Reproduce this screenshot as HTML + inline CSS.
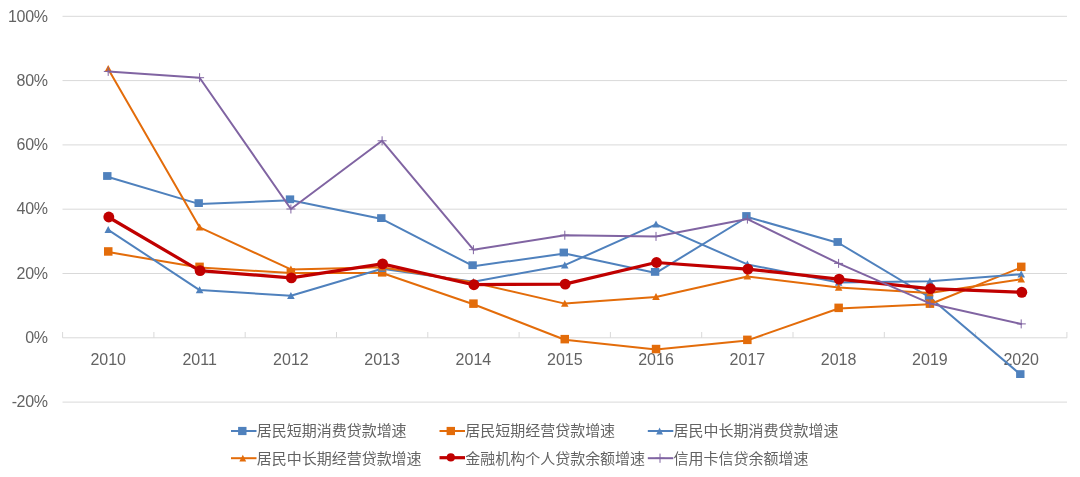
<!DOCTYPE html>
<html lang="zh-CN"><head><meta charset="utf-8"><title>居民贷款增速</title>
<style>
html,body{margin:0;padding:0;background:#fff;}
body{width:1080px;height:477px;overflow:hidden;}
svg{display:block;}
text{font-family:"Liberation Sans","Noto Sans CJK SC",sans-serif;font-size:16px;fill:#636363;}
.lg{font-size:15px;}
</style></head><body>
<svg width="1080" height="477" viewBox="0 0 1080 477">
<rect width="1080" height="477" fill="#fff"/>
<line x1="62.5" x2="1067" y1="16.3" y2="16.3" stroke="#d9d9d9" stroke-width="1"/>
<line x1="62.5" x2="1067" y1="80.6" y2="80.6" stroke="#d9d9d9" stroke-width="1"/>
<line x1="62.5" x2="1067" y1="144.9" y2="144.9" stroke="#d9d9d9" stroke-width="1"/>
<line x1="62.5" x2="1067" y1="209.2" y2="209.2" stroke="#d9d9d9" stroke-width="1"/>
<line x1="62.5" x2="1067" y1="273.5" y2="273.5" stroke="#d9d9d9" stroke-width="1"/>
<line x1="62.5" x2="1067" y1="337.8" y2="337.8" stroke="#d9d9d9" stroke-width="1"/>
<line x1="62.5" x2="1067" y1="402.1" y2="402.1" stroke="#d9d9d9" stroke-width="1"/>
<line x1="62.6" x2="62.6" y1="332" y2="337.8" stroke="#d9d9d9" stroke-width="1"/>
<line x1="153.9" x2="153.9" y1="332" y2="337.8" stroke="#d9d9d9" stroke-width="1"/>
<line x1="245.2" x2="245.2" y1="332" y2="337.8" stroke="#d9d9d9" stroke-width="1"/>
<line x1="336.5" x2="336.5" y1="332" y2="337.8" stroke="#d9d9d9" stroke-width="1"/>
<line x1="427.8" x2="427.8" y1="332" y2="337.8" stroke="#d9d9d9" stroke-width="1"/>
<line x1="519.1" x2="519.1" y1="332" y2="337.8" stroke="#d9d9d9" stroke-width="1"/>
<line x1="610.4" x2="610.4" y1="332" y2="337.8" stroke="#d9d9d9" stroke-width="1"/>
<line x1="701.7" x2="701.7" y1="332" y2="337.8" stroke="#d9d9d9" stroke-width="1"/>
<line x1="793.0" x2="793.0" y1="332" y2="337.8" stroke="#d9d9d9" stroke-width="1"/>
<line x1="884.3" x2="884.3" y1="332" y2="337.8" stroke="#d9d9d9" stroke-width="1"/>
<line x1="975.6" x2="975.6" y1="332" y2="337.8" stroke="#d9d9d9" stroke-width="1"/>
<line x1="1066.9" x2="1066.9" y1="332" y2="337.8" stroke="#d9d9d9" stroke-width="1"/>
<text x="47.6" y="21.5" text-anchor="end" letter-spacing="-0.35">100%</text>
<text x="47.6" y="85.8" text-anchor="end" letter-spacing="-0.35">80%</text>
<text x="47.6" y="150.1" text-anchor="end" letter-spacing="-0.35">60%</text>
<text x="47.6" y="214.3" text-anchor="end" letter-spacing="-0.35">40%</text>
<text x="47.6" y="278.6" text-anchor="end" letter-spacing="-0.35">20%</text>
<text x="47.6" y="342.9" text-anchor="end" letter-spacing="-0.35">0%</text>
<text x="47.6" y="407.2" text-anchor="end" letter-spacing="-0.35">-20%</text>
<text x="108.2" y="364.5" text-anchor="middle">2010</text>
<text x="199.6" y="364.5" text-anchor="middle">2011</text>
<text x="290.9" y="364.5" text-anchor="middle">2012</text>
<text x="382.1" y="364.5" text-anchor="middle">2013</text>
<text x="473.4" y="364.5" text-anchor="middle">2014</text>
<text x="564.8" y="364.5" text-anchor="middle">2015</text>
<text x="656.0" y="364.5" text-anchor="middle">2016</text>
<text x="747.4" y="364.5" text-anchor="middle">2017</text>
<text x="838.6" y="364.5" text-anchor="middle">2018</text>
<text x="929.9" y="364.5" text-anchor="middle">2019</text>
<text x="1021.2" y="364.5" text-anchor="middle">2020</text>
<polyline points="108.2,177.0 199.6,204.1 290.9,200.3 382.1,219.1 473.4,266.2 564.8,253.5 656.0,272.9 747.4,217.0 838.6,243.0 929.9,297.5 1021.2,375.1" fill="none" stroke="#4f81bd" stroke-width="2" stroke-linejoin="round" stroke-linecap="round"/>
<rect x="103.1" y="172.1" width="8.4" height="7.8" fill="#4f81bd"/>
<rect x="194.5" y="199.2" width="8.4" height="7.8" fill="#4f81bd"/>
<rect x="285.8" y="195.4" width="8.4" height="7.8" fill="#4f81bd"/>
<rect x="377.1" y="214.2" width="8.4" height="7.8" fill="#4f81bd"/>
<rect x="468.4" y="261.3" width="8.4" height="7.8" fill="#4f81bd"/>
<rect x="559.6" y="248.6" width="8.4" height="7.8" fill="#4f81bd"/>
<rect x="650.9" y="268.0" width="8.4" height="7.8" fill="#4f81bd"/>
<rect x="742.2" y="212.1" width="8.4" height="7.8" fill="#4f81bd"/>
<rect x="833.5" y="238.1" width="8.4" height="7.8" fill="#4f81bd"/>
<rect x="924.8" y="292.6" width="8.4" height="7.8" fill="#4f81bd"/>
<rect x="1016.1" y="370.2" width="8.4" height="7.8" fill="#4f81bd"/>
<polyline points="108.2,252.1 199.6,267.5 290.9,273.1 382.1,273.0 473.4,304.2 564.8,339.7 656.0,349.6 747.4,340.4 838.6,308.5 929.9,304.3 1021.2,267.5" fill="none" stroke="#e36c0a" stroke-width="2" stroke-linejoin="round" stroke-linecap="round"/>
<rect x="104.0" y="247.2" width="8.5" height="8.5" fill="#e36c0a"/>
<rect x="195.3" y="262.6" width="8.5" height="8.5" fill="#e36c0a"/>
<rect x="286.6" y="268.2" width="8.5" height="8.5" fill="#e36c0a"/>
<rect x="377.9" y="268.1" width="8.5" height="8.5" fill="#e36c0a"/>
<rect x="469.2" y="299.4" width="8.5" height="8.5" fill="#e36c0a"/>
<rect x="560.5" y="334.9" width="8.5" height="8.5" fill="#e36c0a"/>
<rect x="651.8" y="344.8" width="8.5" height="8.5" fill="#e36c0a"/>
<rect x="743.1" y="335.6" width="8.5" height="8.5" fill="#e36c0a"/>
<rect x="834.4" y="303.6" width="8.5" height="8.5" fill="#e36c0a"/>
<rect x="925.7" y="299.4" width="8.5" height="8.5" fill="#e36c0a"/>
<rect x="1017.0" y="262.6" width="8.5" height="8.5" fill="#e36c0a"/>
<polyline points="108.2,229.8 199.6,290.1 290.9,295.8 382.1,268.8 473.4,281.7 564.8,265.2 656.0,224.4 747.4,264.4 838.6,282.6 929.9,281.3 1021.2,274.3" fill="none" stroke="#4f81bd" stroke-width="2" stroke-linejoin="round" stroke-linecap="round"/>
<polygon points="108.2,226.0 112.0,233.0 104.5,233.0" fill="#4f81bd"/>
<polygon points="199.6,286.3 203.4,293.3 195.8,293.3" fill="#4f81bd"/>
<polygon points="290.9,292.0 294.7,299.0 287.1,299.0" fill="#4f81bd"/>
<polygon points="382.1,265.0 385.9,272.0 378.3,272.0" fill="#4f81bd"/>
<polygon points="473.4,277.9 477.2,284.9 469.6,284.9" fill="#4f81bd"/>
<polygon points="564.8,261.4 568.5,268.4 561.0,268.4" fill="#4f81bd"/>
<polygon points="656.0,220.6 659.8,227.6 652.2,227.6" fill="#4f81bd"/>
<polygon points="747.4,260.6 751.1,267.6 743.6,267.6" fill="#4f81bd"/>
<polygon points="838.6,278.8 842.4,285.8 834.9,285.8" fill="#4f81bd"/>
<polygon points="929.9,277.5 933.7,284.5 926.1,284.5" fill="#4f81bd"/>
<polygon points="1021.2,270.5 1025.0,277.5 1017.5,277.5" fill="#4f81bd"/>
<polyline points="108.2,68.9 199.6,227.3 290.9,269.4 382.1,267.2 473.4,282.6 564.8,303.6 656.0,296.9 747.4,276.4 838.6,287.5 929.9,293.0 1021.2,279.3" fill="none" stroke="#e36c0a" stroke-width="2" stroke-linejoin="round" stroke-linecap="round"/>
<polygon points="108.2,65.1 112.0,72.1 104.5,72.1" fill="#e36c0a"/>
<polygon points="199.6,223.5 203.4,230.5 195.8,230.5" fill="#e36c0a"/>
<polygon points="290.9,265.6 294.7,272.6 287.1,272.6" fill="#e36c0a"/>
<polygon points="382.1,263.4 385.9,270.4 378.3,270.4" fill="#e36c0a"/>
<polygon points="473.4,278.8 477.2,285.8 469.6,285.8" fill="#e36c0a"/>
<polygon points="564.8,299.8 568.5,306.8 561.0,306.8" fill="#e36c0a"/>
<polygon points="656.0,293.1 659.8,300.1 652.2,300.1" fill="#e36c0a"/>
<polygon points="747.4,272.6 751.1,279.6 743.6,279.6" fill="#e36c0a"/>
<polygon points="838.6,283.7 842.4,290.7 834.9,290.7" fill="#e36c0a"/>
<polygon points="929.9,289.2 933.7,296.2 926.1,296.2" fill="#e36c0a"/>
<polygon points="1021.2,275.5 1025.0,282.5 1017.5,282.5" fill="#e36c0a"/>
<polyline points="108.2,217.0 199.6,270.6 290.9,277.9 382.1,263.9 473.4,284.7 564.8,284.1 656.0,262.5 747.4,269.1 838.6,279.1 929.9,288.6 1021.2,292.3" fill="none" stroke="#c00000" stroke-width="3.2" stroke-linejoin="round" stroke-linecap="round"/>
<circle cx="108.8" cy="217.0" r="5.45" fill="#c00000"/>
<circle cx="200.1" cy="270.6" r="5.45" fill="#c00000"/>
<circle cx="291.4" cy="277.9" r="5.45" fill="#c00000"/>
<circle cx="382.6" cy="263.9" r="5.45" fill="#c00000"/>
<circle cx="473.9" cy="284.7" r="5.45" fill="#c00000"/>
<circle cx="565.2" cy="284.1" r="5.45" fill="#c00000"/>
<circle cx="656.5" cy="262.5" r="5.45" fill="#c00000"/>
<circle cx="747.9" cy="269.1" r="5.45" fill="#c00000"/>
<circle cx="839.1" cy="279.1" r="5.45" fill="#c00000"/>
<circle cx="930.4" cy="288.6" r="5.45" fill="#c00000"/>
<circle cx="1021.8" cy="292.3" r="5.45" fill="#c00000"/>
<polyline points="108.2,71.4 199.6,77.7 290.9,209.0 382.1,140.8 473.4,249.7 564.8,235.2 656.0,236.4 747.4,219.1 838.6,263.4 929.9,303.4 1021.2,323.9" fill="none" stroke="#8064a2" stroke-width="2" stroke-linejoin="round" stroke-linecap="round"/>
<path d="M103.8 71.4H112.8M108.2 66.9V75.9" stroke="#8064a2" stroke-width="1" fill="none"/>
<path d="M195.1 77.7H204.1M199.6 73.2V82.2" stroke="#8064a2" stroke-width="1" fill="none"/>
<path d="M286.4 209.0H295.4M290.9 204.5V213.5" stroke="#8064a2" stroke-width="1" fill="none"/>
<path d="M377.6 140.8H386.6M382.1 136.3V145.3" stroke="#8064a2" stroke-width="1" fill="none"/>
<path d="M468.9 249.7H477.9M473.4 245.2V254.2" stroke="#8064a2" stroke-width="1" fill="none"/>
<path d="M560.2 235.2H569.2M564.8 230.7V239.7" stroke="#8064a2" stroke-width="1" fill="none"/>
<path d="M651.5 236.4H660.5M656.0 231.9V240.9" stroke="#8064a2" stroke-width="1" fill="none"/>
<path d="M742.9 219.1H751.9M747.4 214.6V223.6" stroke="#8064a2" stroke-width="1" fill="none"/>
<path d="M834.1 263.4H843.1M838.6 258.9V267.9" stroke="#8064a2" stroke-width="1" fill="none"/>
<path d="M925.4 303.4H934.4M929.9 298.9V307.9" stroke="#8064a2" stroke-width="1" fill="none"/>
<path d="M1016.8 323.9H1025.8M1021.2 319.4V328.4" stroke="#8064a2" stroke-width="1" fill="none"/>
<line x1="231.0" x2="256.5" y1="431.0" y2="431.0" stroke="#4f81bd" stroke-width="2"/>
<rect x="238.1" y="426.9" width="8.4" height="8.2" fill="#4f81bd"/>
<text class="lg" transform="translate(256.8 436.4) scale(1 0.95)">居民短期消费贷款增速</text>
<line x1="439.5" x2="465.0" y1="431.0" y2="431.0" stroke="#e36c0a" stroke-width="2"/>
<rect x="446.6" y="426.9" width="8.4" height="8.2" fill="#e36c0a"/>
<text class="lg" transform="translate(465.3 436.4) scale(1 0.95)">居民短期经营贷款增速</text>
<line x1="647.8" x2="673.3" y1="431.0" y2="431.0" stroke="#4f81bd" stroke-width="2"/>
<polygon points="659.6,427.6 663.0,434.4 656.2,434.4" fill="#4f81bd"/>
<text class="lg" transform="translate(673.6 436.4) scale(1 0.95)">居民中长期消费贷款增速</text>
<line x1="231.0" x2="256.5" y1="458.2" y2="458.2" stroke="#e36c0a" stroke-width="2"/>
<polygon points="242.8,454.8 246.2,461.6 239.4,461.6" fill="#e36c0a"/>
<text class="lg" transform="translate(256.8 463.6) scale(1 0.95)">居民中长期经营贷款增速</text>
<line x1="439.5" x2="465.0" y1="457.7" y2="457.7" stroke="#c00000" stroke-width="3.2"/>
<circle cx="450.8" cy="457.4" r="4.1" fill="#c00000"/>
<text class="lg" transform="translate(465.3 463.6) scale(1 0.95)">金融机构个人贷款余额增速</text>
<line x1="647.8" x2="673.3" y1="458.2" y2="458.2" stroke="#8064a2" stroke-width="2"/>
<path d="M655.4 458.2H664.6M660.0 453.6V462.8" stroke="#8064a2" stroke-width="1" fill="none"/>
<text class="lg" transform="translate(673.6 463.6) scale(1 0.95)">信用卡信贷余额增速</text>
</svg></body></html>
